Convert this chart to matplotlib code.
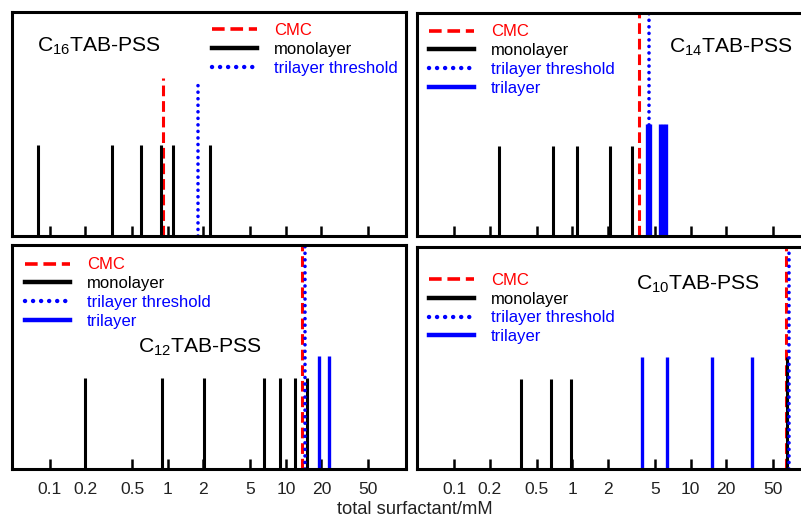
import matplotlib
matplotlib.use('Agg')
import matplotlib.pyplot as plt
from matplotlib.lines import Line2D

plt.rcParams['font.family'] = ['Liberation Sans', 'DejaVu Sans']
plt.rcParams['mathtext.fontset'] = 'custom'
plt.rcParams['mathtext.rm'] = 'Liberation Sans'
plt.rcParams['mathtext.it'] = 'Liberation Sans'

# surfactant concentrations, mM
c16_mono = [0.079, 0.338, 0.598, 0.885, 1.10, 2.26]
c16_tri = []
c16_extra = []
c16_cmc = 0.914
c16_threshold = 1.82

c14_mono = [0.237, 0.679, 1.09, 2.06, 3.17]
c14_tri = [4.3, 4.55, 5.5, 5.8, 6.2]
c14_extra = []
c14_cmc = 3.63
c14_threshold = 4.47

c12_mono = [0.198, 0.897, 2.01, 6.47, 8.95, 11.97, 15.0]
c12_tri = [19.1, 23.2]
c12_extra = []
c12_cmc = 13.6
c12_threshold = 14.6

c10_mono = [0.365, 0.653, 0.98]
c10_tri = [3.86, 6.28, 15.3, 33.3]
c10_extra = [66.0]
c10_cmc = 64.8
c10_threshold = 67.7

# bar heights (arbitrary units)
mono_height = 0.405
tri_height = 0.505
cmc_heights = [0.705, 1.0, 1.0, 1.0]
threshold_heights = [0.68, 1.0, 1.0, 1.0]

tick_values = [0.1, 0.2, 0.5, 1, 2, 5, 10, 20, 50]
tick_labels = ['0.1', '0.2', '0.5', '1', '2', '5', '10', '20', '50']

RED = '#ff0000'
BLUE = '#0000ff'
dash_style = (0, (3.5, 1.6))
dot_style = (0, (0.01, 1.8))

fig = plt.figure(figsize=(8.01, 5.18), dpi=100)

panels = [
    # name, data, cmc, threshold, axes rect, title pos, legend pos, show trilayer in legend
    ('16', c16_mono, c16_tri, c16_extra, c16_cmc, c16_threshold,
     [0.01498, 0.5444, 0.4919, 0.4324], (0.063, 0.823), (0.508, 0.95), False),
    ('14', c14_mono, c14_tri, c14_extra, c14_cmc, c14_threshold,
     [0.5202, 0.5444, 0.4919, 0.4299], (0.641, 0.823), (0.032, 0.95), True),
    ('12', c12_mono, c12_tri, c12_extra, c12_cmc, c12_threshold,
     [0.01498, 0.0940, 0.4919, 0.4330], (0.3206, 0.518), (0.033, 0.945), True),
    ('10', c10_mono, c10_tri, c10_extra, c10_cmc, c10_threshold,
     [0.5202, 0.0940, 0.4919, 0.4297], (0.556, 0.807), (0.032, 0.883), True),
]

for i, (n, mono, tri, extra, cmc, thr, rect, tpos, lpos, show_tri) in enumerate(panels):
    ax = fig.add_axes(rect)
    ax.set_xscale('log')
    ax.set_xlim(0.048, 104)
    ax.set_ylim(0, 1)

    ax.vlines([cmc], 0, cmc_heights[i], color=RED, lw=2.2, linestyles=[dash_style])
    ax.vlines(mono, 0, mono_height, color='black', lw=2.2)
    if tri:
        ax.vlines(tri, 0, tri_height, color=BLUE, lw=2.4)
    if extra:
        ax.vlines(extra, 0, tri_height, color='black', lw=2.2)
    thr_line = ax.vlines([thr], 0, threshold_heights[i], color=BLUE, lw=2.6,
                         linestyles=[dot_style])
    thr_line.set_capstyle('round')

    for s in ax.spines.values():
        s.set_linewidth(2.2)
    ax.set_yticks([])
    ax.set_xticks(tick_values)
    ax.minorticks_off()
    ax.tick_params(axis='x', direction='in', length=7, width=1.8, pad=9,
                   labelsize=12.6, labelcolor='#222222')
    if i < 2:
        ax.set_xticklabels([])
    else:
        ax.set_xticklabels(tick_labels)

    ax.text(tpos[0], tpos[1], r'C$_{\mathregular{%s}}$TAB-PSS' % n,
            transform=ax.transAxes, fontsize=15.2, ha='left', va='baseline')

    handles = [
        Line2D([], [], color=RED, lw=2.6, linestyle=dash_style),
        Line2D([], [], color='black', lw=3.2),
        Line2D([], [], color=BLUE, lw=3.2, linestyle=dot_style, dash_capstyle='round'),
    ]
    labels = ['CMC', 'monolayer', 'trilayer threshold']
    if show_tri:
        handles.append(Line2D([], [], color=BLUE, lw=3.2))
        labels.append('trilayer')
    ax.legend(handles, labels, loc='upper left', bbox_to_anchor=lpos,
              frameon=False, fontsize=12, labelcolor='linecolor',
              handlelength=2.7, handletextpad=1.0, labelspacing=0.23,
              borderpad=0, borderaxespad=0)

fig.text(415 / 801, 1 - 510 / 518, 'total surfactant/mM', ha='center', va='center',
         fontsize=13.2, color='#222222')

fig.savefig('out.png', dpi=100)
